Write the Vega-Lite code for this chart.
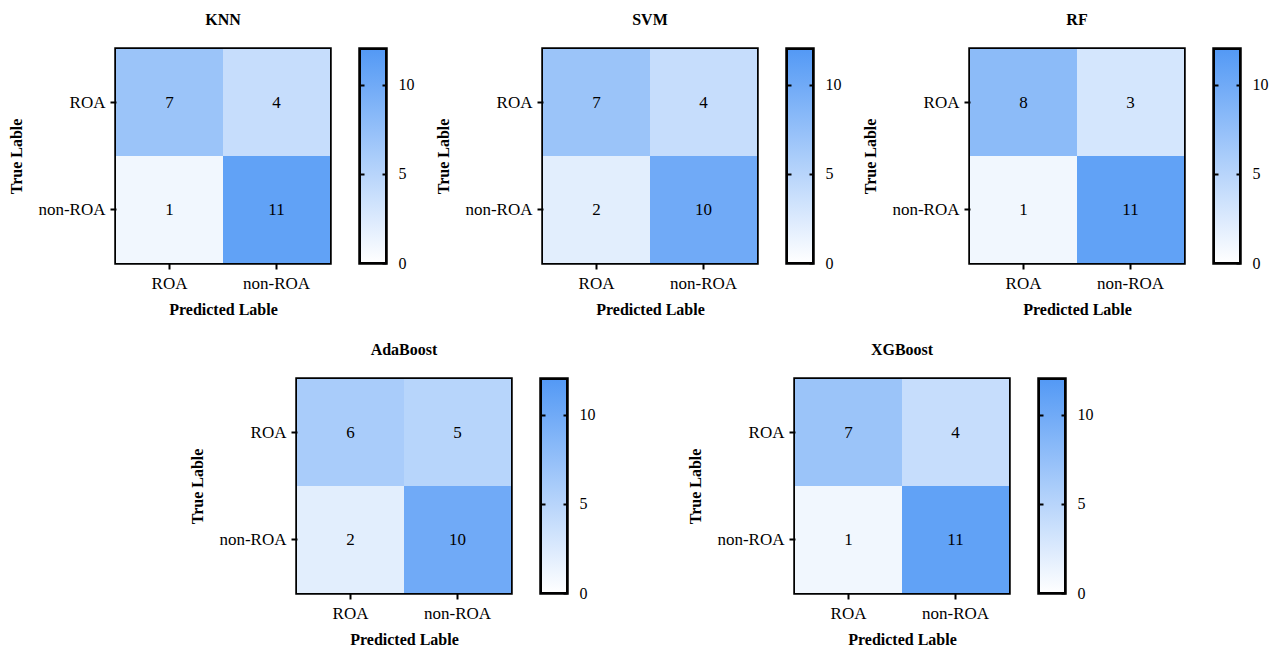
{
  "$schema": "https://vega.github.io/schema/vega-lite/v6.json",
  "padding": {"left": 7, "top": 10, "right": 0, "bottom": 5},
  "background": "white",
  "config": {
    "font": "Liberation Serif",
    "view": {"stroke": "black", "strokeWidth": 3.5},
    "axis": {"labelFont": "Liberation Serif", "titleFont": "Liberation Serif", "labelColor": "black", "titleColor": "black", "labelFontSize": 17, "titleFontSize": 16, "titleFontWeight": "bold", "tickColor": "black", "tickWidth": 2, "tickSize": 6, "domain": false, "grid": false},
    "title": {"font": "Liberation Serif", "fontSize": 16, "fontWeight": "bold", "color": "black", "offset": 21}
  },
  "datasets": {
    "cm": [
      {"model": "KNN", "true": "ROA", "pred": "ROA", "count": 7},
      {"model": "KNN", "true": "ROA", "pred": "non-ROA", "count": 4},
      {"model": "KNN", "true": "non-ROA", "pred": "ROA", "count": 1},
      {"model": "KNN", "true": "non-ROA", "pred": "non-ROA", "count": 11},
      {"model": "SVM", "true": "ROA", "pred": "ROA", "count": 7},
      {"model": "SVM", "true": "ROA", "pred": "non-ROA", "count": 4},
      {"model": "SVM", "true": "non-ROA", "pred": "ROA", "count": 2},
      {"model": "SVM", "true": "non-ROA", "pred": "non-ROA", "count": 10},
      {"model": "RF", "true": "ROA", "pred": "ROA", "count": 8},
      {"model": "RF", "true": "ROA", "pred": "non-ROA", "count": 3},
      {"model": "RF", "true": "non-ROA", "pred": "ROA", "count": 1},
      {"model": "RF", "true": "non-ROA", "pred": "non-ROA", "count": 11},
      {"model": "AdaBoost", "true": "ROA", "pred": "ROA", "count": 6},
      {"model": "AdaBoost", "true": "ROA", "pred": "non-ROA", "count": 5},
      {"model": "AdaBoost", "true": "non-ROA", "pred": "ROA", "count": 2},
      {"model": "AdaBoost", "true": "non-ROA", "pred": "non-ROA", "count": 10},
      {"model": "XGBoost", "true": "ROA", "pred": "ROA", "count": 7},
      {"model": "XGBoost", "true": "ROA", "pred": "non-ROA", "count": 4},
      {"model": "XGBoost", "true": "non-ROA", "pred": "ROA", "count": 1},
      {"model": "XGBoost", "true": "non-ROA", "pred": "non-ROA", "count": 11}
    ],
    "bar": [{"lo": 0, "hi": 12}],
    "empty": []
  },
  "vconcat": [
    {
      "hconcat": [
        {"hconcat": [
          {"title": "KNN", "width": 214, "height": 214, "data": {"name": "cm"}, "transform": [{"filter": "datum.model === 'KNN'"}],
           "encoding": {"x": {"field": "pred", "type": "nominal", "sort": ["ROA", "non-ROA"], "title": "Predicted Lable", "axis": {"labelAngle": 0, "labelPadding": 6, "titlePadding": 10}}, "y": {"field": "true", "type": "nominal", "sort": ["ROA", "non-ROA"], "title": "True Lable", "axis": {"labelPadding": 5, "titlePadding": 13}}},
           "layer": [
             {"mark": {"type": "rect"}, "encoding": {"color": {"field": "count", "type": "quantitative", "scale": {"domain": [0, 12], "range": ["#ffffff", "#5399f5"], "interpolate": "rgb"}, "legend": null}}},
             {"mark": {"type": "text", "fontSize": 17, "color": "black", "font": "Liberation Serif"}, "encoding": {"text": {"field": "count", "type": "quantitative"}}}
           ]},
          {"width": 26, "height": 214, "data": {"name": "bar"},
           "layer": [
             {"mark": {"type": "rect", "opacity": 0}, "encoding": {"x": {"datum": 0, "type": "quantitative", "scale": {"domain": [0, 1]}, "axis": null}, "x2": {"datum": 1}, "y": {"field": "lo", "type": "quantitative", "scale": {"domain": [0, 12], "nice": false}, "axis": {"orient": "left", "values": [5, 10], "labels": false, "tickSize": -4, "title": null, "zindex": 1}}, "y2": {"field": "hi"}}},
             {"mark": {"type": "rect", "fill": {"gradient": "linear", "x1": 0, "y1": 1, "x2": 0, "y2": 0, "stops": [{"offset": 0, "color": "#ffffff"}, {"offset": 1, "color": "#5399f5"}]}, "stroke": "black", "strokeWidth": 2}, "encoding": {"x": {"datum": 0, "type": "quantitative", "scale": {"domain": [0, 1]}, "axis": null}, "x2": {"datum": 1}, "y": {"field": "lo", "type": "quantitative", "scale": {"domain": [0, 12], "nice": false}, "axis": {"orient": "right", "values": [0, 5, 10], "tickSize": -4, "labelPadding": 16, "labelFontSize": 16, "title": null, "zindex": 1}}, "y2": {"field": "hi"}}}
           ],
           "resolve": {"axis": {"y": "independent"}}}
        ], "spacing": 25, "resolve": {"scale": {"color": "independent"}}},
        {"hconcat": [
          {"title": "SVM", "width": 214, "height": 214, "data": {"name": "cm"}, "transform": [{"filter": "datum.model === 'SVM'"}],
           "encoding": {"x": {"field": "pred", "type": "nominal", "sort": ["ROA", "non-ROA"], "title": "Predicted Lable", "axis": {"labelAngle": 0, "labelPadding": 6, "titlePadding": 10}}, "y": {"field": "true", "type": "nominal", "sort": ["ROA", "non-ROA"], "title": "True Lable", "axis": {"labelPadding": 5, "titlePadding": 13}}},
           "layer": [
             {"mark": {"type": "rect"}, "encoding": {"color": {"field": "count", "type": "quantitative", "scale": {"domain": [0, 12], "range": ["#ffffff", "#5399f5"], "interpolate": "rgb"}, "legend": null}}},
             {"mark": {"type": "text", "fontSize": 17, "color": "black", "font": "Liberation Serif"}, "encoding": {"text": {"field": "count", "type": "quantitative"}}}
           ]},
          {"width": 26, "height": 214, "data": {"name": "bar"},
           "layer": [
             {"mark": {"type": "rect", "opacity": 0}, "encoding": {"x": {"datum": 0, "type": "quantitative", "scale": {"domain": [0, 1]}, "axis": null}, "x2": {"datum": 1}, "y": {"field": "lo", "type": "quantitative", "scale": {"domain": [0, 12], "nice": false}, "axis": {"orient": "left", "values": [5, 10], "labels": false, "tickSize": -4, "title": null, "zindex": 1}}, "y2": {"field": "hi"}}},
             {"mark": {"type": "rect", "fill": {"gradient": "linear", "x1": 0, "y1": 1, "x2": 0, "y2": 0, "stops": [{"offset": 0, "color": "#ffffff"}, {"offset": 1, "color": "#5399f5"}]}, "stroke": "black", "strokeWidth": 2}, "encoding": {"x": {"datum": 0, "type": "quantitative", "scale": {"domain": [0, 1]}, "axis": null}, "x2": {"datum": 1}, "y": {"field": "lo", "type": "quantitative", "scale": {"domain": [0, 12], "nice": false}, "axis": {"orient": "right", "values": [0, 5, 10], "tickSize": -4, "labelPadding": 16, "labelFontSize": 16, "title": null, "zindex": 1}}, "y2": {"field": "hi"}}}
           ],
           "resolve": {"axis": {"y": "independent"}}}
        ], "spacing": 25, "resolve": {"scale": {"color": "independent"}}},
        {"hconcat": [
          {"title": "RF", "width": 214, "height": 214, "data": {"name": "cm"}, "transform": [{"filter": "datum.model === 'RF'"}],
           "encoding": {"x": {"field": "pred", "type": "nominal", "sort": ["ROA", "non-ROA"], "title": "Predicted Lable", "axis": {"labelAngle": 0, "labelPadding": 6, "titlePadding": 10}}, "y": {"field": "true", "type": "nominal", "sort": ["ROA", "non-ROA"], "title": "True Lable", "axis": {"labelPadding": 5, "titlePadding": 13}}},
           "layer": [
             {"mark": {"type": "rect"}, "encoding": {"color": {"field": "count", "type": "quantitative", "scale": {"domain": [0, 12], "range": ["#ffffff", "#5399f5"], "interpolate": "rgb"}, "legend": null}}},
             {"mark": {"type": "text", "fontSize": 17, "color": "black", "font": "Liberation Serif"}, "encoding": {"text": {"field": "count", "type": "quantitative"}}}
           ]},
          {"width": 26, "height": 214, "data": {"name": "bar"},
           "layer": [
             {"mark": {"type": "rect", "opacity": 0}, "encoding": {"x": {"datum": 0, "type": "quantitative", "scale": {"domain": [0, 1]}, "axis": null}, "x2": {"datum": 1}, "y": {"field": "lo", "type": "quantitative", "scale": {"domain": [0, 12], "nice": false}, "axis": {"orient": "left", "values": [5, 10], "labels": false, "tickSize": -4, "title": null, "zindex": 1}}, "y2": {"field": "hi"}}},
             {"mark": {"type": "rect", "fill": {"gradient": "linear", "x1": 0, "y1": 1, "x2": 0, "y2": 0, "stops": [{"offset": 0, "color": "#ffffff"}, {"offset": 1, "color": "#5399f5"}]}, "stroke": "black", "strokeWidth": 2}, "encoding": {"x": {"datum": 0, "type": "quantitative", "scale": {"domain": [0, 1]}, "axis": null}, "x2": {"datum": 1}, "y": {"field": "lo", "type": "quantitative", "scale": {"domain": [0, 12], "nice": false}, "axis": {"orient": "right", "values": [0, 5, 10], "tickSize": -4, "labelPadding": 16, "labelFontSize": 16, "title": null, "zindex": 1}}, "y2": {"field": "hi"}}}
           ],
           "resolve": {"axis": {"y": "independent"}}}
        ], "spacing": 25, "resolve": {"scale": {"color": "independent"}}}
      ],
      "spacing": 18
    },
    {
      "hconcat": [
        {"width": 72, "height": 10, "data": {"name": "empty"}, "mark": "point", "view": {"stroke": null}},
        {"hconcat": [
          {"hconcat": [
            {"title": "AdaBoost", "width": 214, "height": 214, "data": {"name": "cm"}, "transform": [{"filter": "datum.model === 'AdaBoost'"}],
             "encoding": {"x": {"field": "pred", "type": "nominal", "sort": ["ROA", "non-ROA"], "title": "Predicted Lable", "axis": {"labelAngle": 0, "labelPadding": 6, "titlePadding": 10}}, "y": {"field": "true", "type": "nominal", "sort": ["ROA", "non-ROA"], "title": "True Lable", "axis": {"labelPadding": 5, "titlePadding": 13}}},
             "layer": [
               {"mark": {"type": "rect"}, "encoding": {"color": {"field": "count", "type": "quantitative", "scale": {"domain": [0, 12], "range": ["#ffffff", "#5399f5"], "interpolate": "rgb"}, "legend": null}}},
               {"mark": {"type": "text", "fontSize": 17, "color": "black", "font": "Liberation Serif"}, "encoding": {"text": {"field": "count", "type": "quantitative"}}}
             ]},
            {"width": 26, "height": 214, "data": {"name": "bar"},
             "layer": [
               {"mark": {"type": "rect", "opacity": 0}, "encoding": {"x": {"datum": 0, "type": "quantitative", "scale": {"domain": [0, 1]}, "axis": null}, "x2": {"datum": 1}, "y": {"field": "lo", "type": "quantitative", "scale": {"domain": [0, 12], "nice": false}, "axis": {"orient": "left", "values": [5, 10], "labels": false, "tickSize": -4, "title": null, "zindex": 1}}, "y2": {"field": "hi"}}},
               {"mark": {"type": "rect", "fill": {"gradient": "linear", "x1": 0, "y1": 1, "x2": 0, "y2": 0, "stops": [{"offset": 0, "color": "#ffffff"}, {"offset": 1, "color": "#5399f5"}]}, "stroke": "black", "strokeWidth": 2}, "encoding": {"x": {"datum": 0, "type": "quantitative", "scale": {"domain": [0, 1]}, "axis": null}, "x2": {"datum": 1}, "y": {"field": "lo", "type": "quantitative", "scale": {"domain": [0, 12], "nice": false}, "axis": {"orient": "right", "values": [0, 5, 10], "tickSize": -4, "labelPadding": 16, "labelFontSize": 16, "title": null, "zindex": 1}}, "y2": {"field": "hi"}}}
             ],
             "resolve": {"axis": {"y": "independent"}}}
          ], "spacing": 25, "resolve": {"scale": {"color": "independent"}}},
          {"hconcat": [
            {"title": "XGBoost", "width": 214, "height": 214, "data": {"name": "cm"}, "transform": [{"filter": "datum.model === 'XGBoost'"}],
             "encoding": {"x": {"field": "pred", "type": "nominal", "sort": ["ROA", "non-ROA"], "title": "Predicted Lable", "axis": {"labelAngle": 0, "labelPadding": 6, "titlePadding": 10}}, "y": {"field": "true", "type": "nominal", "sort": ["ROA", "non-ROA"], "title": "True Lable", "axis": {"labelPadding": 5, "titlePadding": 13}}},
             "layer": [
               {"mark": {"type": "rect"}, "encoding": {"color": {"field": "count", "type": "quantitative", "scale": {"domain": [0, 12], "range": ["#ffffff", "#5399f5"], "interpolate": "rgb"}, "legend": null}}},
               {"mark": {"type": "text", "fontSize": 17, "color": "black", "font": "Liberation Serif"}, "encoding": {"text": {"field": "count", "type": "quantitative"}}}
             ]},
            {"width": 26, "height": 214, "data": {"name": "bar"},
             "layer": [
               {"mark": {"type": "rect", "opacity": 0}, "encoding": {"x": {"datum": 0, "type": "quantitative", "scale": {"domain": [0, 1]}, "axis": null}, "x2": {"datum": 1}, "y": {"field": "lo", "type": "quantitative", "scale": {"domain": [0, 12], "nice": false}, "axis": {"orient": "left", "values": [5, 10], "labels": false, "tickSize": -4, "title": null, "zindex": 1}}, "y2": {"field": "hi"}}},
               {"mark": {"type": "rect", "fill": {"gradient": "linear", "x1": 0, "y1": 1, "x2": 0, "y2": 0, "stops": [{"offset": 0, "color": "#ffffff"}, {"offset": 1, "color": "#5399f5"}]}, "stroke": "black", "strokeWidth": 2}, "encoding": {"x": {"datum": 0, "type": "quantitative", "scale": {"domain": [0, 1]}, "axis": null}, "x2": {"datum": 1}, "y": {"field": "lo", "type": "quantitative", "scale": {"domain": [0, 12], "nice": false}, "axis": {"orient": "right", "values": [0, 5, 10], "tickSize": -4, "labelPadding": 16, "labelFontSize": 16, "title": null, "zindex": 1}}, "y2": {"field": "hi"}}}
             ],
             "resolve": {"axis": {"y": "independent"}}}
          ], "spacing": 25, "resolve": {"scale": {"color": "independent"}}}
        ], "spacing": 89}
      ],
      "spacing": 0
    }
  ],
  "spacing": 21
}
